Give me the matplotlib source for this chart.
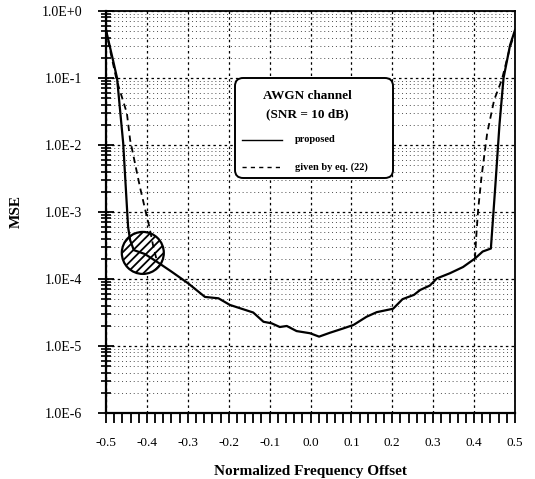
import matplotlib
matplotlib.use('Agg')
import matplotlib.pyplot as plt
from matplotlib.patches import Ellipse, FancyBboxPatch
from matplotlib.lines import Line2D
from matplotlib.ticker import LogLocator, NullFormatter, MultipleLocator

plt.rcParams['font.family'] = ['Liberation Serif', 'DejaVu Serif']
plt.rcParams['hatch.linewidth'] = 1.3

# ---------------- data ----------------
prop_x = [-0.500, -0.483, -0.473, -0.458, -0.446, -0.441, -0.432, -0.405, -0.375,
          -0.340, -0.299, -0.258, -0.225, -0.197, -0.140, -0.115, -0.095, -0.075,
          -0.058, -0.034, -0.001, 0.021, 0.048, 0.079, 0.105, 0.137, 0.162, 0.202,
          0.225, 0.253, 0.268, 0.292, 0.309, 0.341, 0.373, 0.402, 0.421, 0.441,
          0.452, 0.462, 0.472, 0.488, 0.500]
prop_y = [0.52, 0.186, 0.10, 0.0107, 6.0e-4, 3.8e-4, 2.7e-4, 2.36e-4, 1.8e-4,
          1.29e-4, 8.6e-5, 5.4e-5, 5.15e-5, 4.1e-5, 3.16e-5, 2.3e-5, 2.18e-5, 1.92e-5,
          1.99e-5, 1.67e-5, 1.55e-5, 1.38e-5, 1.58e-5, 1.82e-5, 2.06e-5, 2.73e-5, 3.2e-5, 3.6e-5,
          5.0e-5, 5.8e-5, 6.85e-5, 8.0e-5, 1.02e-4, 1.22e-4, 1.51e-4, 2.02e-4, 2.57e-4, 2.85e-4,
          2.5e-3, 0.02, 0.10, 0.31, 0.52]

eq22_left_x = [-0.500, -0.490, -0.474, -0.449, -0.441, -0.417, -0.400, -0.395, -0.385, -0.375]
eq22_left_y = [0.52, 0.26, 0.093, 0.030, 0.0119, 2.36e-3, 8.4e-4, 6.4e-4, 3.2e-4, 1.8e-4]
eq22_right_x = [0.402, 0.406, 0.410, 0.418, 0.432, 0.449, 0.468, 0.488, 0.500]
eq22_right_y = [2.02e-4, 5.0e-4, 1.1e-3, 3.3e-3, 0.015, 0.047, 0.095, 0.29, 0.49]

circle_center = (-0.41, 2.45e-4)

x_ticks = [-0.5, -0.4, -0.3, -0.2, -0.1, 0.0, 0.1, 0.2, 0.3, 0.4, 0.5]
x_labels = ['-0.5', '-0.4', '-0.3', '-0.2', '-0.1', '0.0', '0.1', '0.2', '0.3', '0.4', '0.5']
y_ticks = [1e-6, 1e-5, 1e-4, 1e-3, 1e-2, 1e-1, 1e0]
y_labels = ['1.0E-6', '1.0E-5', '1.0E-4', '1.0E-3', '1.0E-2', '1.0E-1', '1.0E+0']

# ---------------- figure ----------------
W, H = 535, 479
fig = plt.figure(figsize=(W / 100, H / 100), dpi=100)
L, R, T, B = 106, 515, 11, 413
ax = fig.add_axes([L / W, 1 - B / H, (R - L) / W, (B - T) / H])
ax.set_yscale('log')
ax.set_xlim(-0.5, 0.5)
ax.set_ylim(1e-6, 1.0)

ax.set_xticks(x_ticks)
ax.set_xticklabels(x_labels)
ax.xaxis.set_minor_locator(MultipleLocator(0.02))
ax.set_yticks(y_ticks)
ax.set_yticklabels(y_labels)
ax.yaxis.set_minor_locator(LogLocator(base=10, subs=range(2, 10)))
ax.yaxis.set_minor_formatter(NullFormatter())

ax.tick_params(axis='x', which='both', direction='out', length=7, width=1.3,
               pad=10, labelsize=9.5, top=False)
ax.tick_params(axis='y', which='major', direction='inout', length=12, width=1.3,
               pad=11, labelsize=10, right=False)
ax.tick_params(axis='y', which='minor', direction='inout', length=7, width=1.2, right=False)

for s in ['left', 'bottom']:
    ax.spines[s].set_linewidth(1.6)
for s in ['top', 'right']:
    ax.spines[s].set_linewidth(1.3)

ax.grid(which='major', axis='both', color='black', linestyle=(0, (2, 2.5)), linewidth=0.9)
ax.grid(which='minor', axis='y', color='0.3', linestyle=(0, (1, 3)), linewidth=0.7)
ax.set_axisbelow(True)

ax.plot(eq22_left_x, eq22_left_y, color='black', lw=1.3, linestyle=(0, (3.5, 2.5)), zorder=3)
ax.plot(eq22_right_x, eq22_right_y, color='black', lw=1.3, linestyle=(0, (3.5, 2.5)), zorder=3)
ax.plot(prop_x, prop_y, color='black', lw=1.6, zorder=4)

# hatched circle (drawn in axes coords so it stays round)
cx, cy = ax.transAxes.inverted().transform(ax.transData.transform(circle_center))
rad_px = 21
circ = Ellipse((cx, cy), width=2 * rad_px / (R - L), height=2 * rad_px / (B - T),
               transform=ax.transAxes, facecolor='white', edgecolor='black',
               hatch='////', lw=1.6, zorder=2.5)
ax.add_patch(circ)

ax.set_xlabel('Normalized Frequency Offset', fontsize=11, fontweight='bold', labelpad=12)
ax.set_ylabel('MSE', fontsize=11, fontweight='bold', labelpad=14)


def axc(px, py):
    return ((px - L) / (R - L), (B - py) / (B - T))


# legend box
x0, y0 = axc(235, 178)
x1, y1 = axc(393, 78)
box = FancyBboxPatch((x0, y0), x1 - x0, y1 - y0,
                     boxstyle='round,pad=0,rounding_size=0.02',
                     transform=ax.transAxes, facecolor='white', edgecolor='black',
                     lw=1.4, zorder=5)
ax.add_patch(box)
tx, ty = axc(307, 96)
ax.text(tx, ty, 'AWGN channel', transform=ax.transAxes, ha='center', va='center',
        fontsize=9.5, fontweight='bold', zorder=6)
tx, ty = axc(307, 114)
ax.text(tx, ty, '(SNR = 10 dB)', transform=ax.transAxes, ha='center', va='center',
        fontsize=9.5, fontweight='bold', zorder=6)
lx0, ly = axc(242, 140)
lx1, _ = axc(282, 140)
ax.add_line(Line2D([lx0, lx1], [ly, ly], transform=ax.transAxes, color='black', lw=1.0, zorder=6))
tx, _ = axc(295, 140)
ax.text(tx, ly, 'proposed', transform=ax.transAxes, ha='left', va='center',
        fontsize=7.5, fontweight='bold', zorder=6)
lx0, ly = axc(242, 167)
ax.add_line(Line2D([lx0, lx1], [ly, ly], transform=ax.transAxes, color='black', lw=1.0,
                   linestyle=(0, (3, 3)), zorder=6))
ax.text(tx, ly, 'given by eq. (22)', transform=ax.transAxes, ha='left', va='center',
        fontsize=7.5, fontweight='bold', zorder=6)

fig.savefig('out.png', dpi=100)
